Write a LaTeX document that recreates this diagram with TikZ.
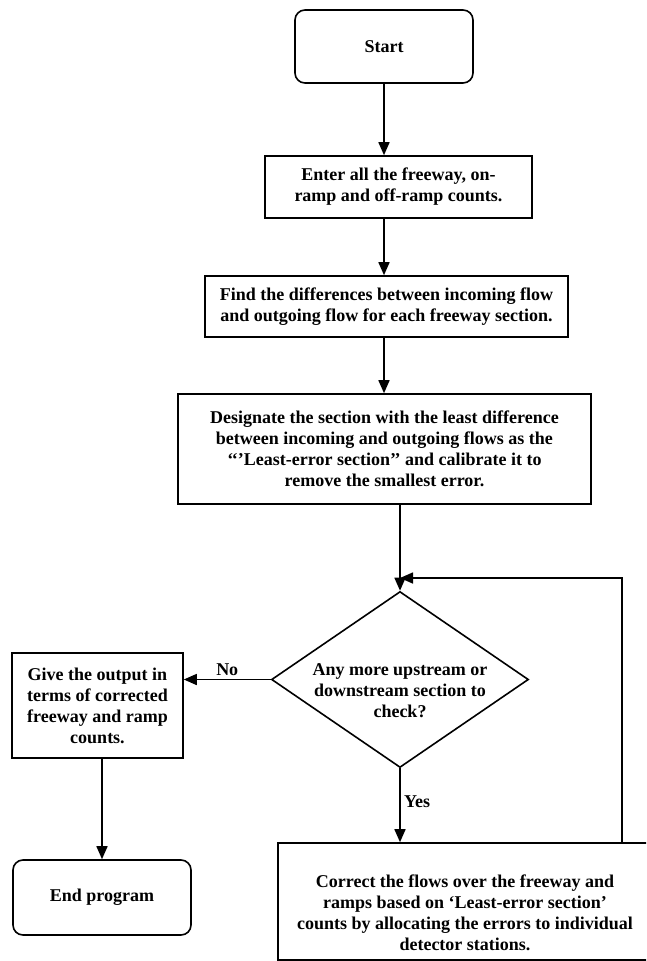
\documentclass[tikz,border=0pt]{standalone}
\usepackage{fontspec}
\setmainfont{Liberation Serif}
\usetikzlibrary{shapes.geometric,arrows.meta}
\begin{document}
\begin{tikzpicture}[x=1pt, y=-1pt, line width=1.6pt, font=\fontsize{18}{21}\selectfont\bfseries]
        \tikzstyle{boxstyle}=[shape=rectangle, draw, align=center, inner sep=2pt]
        \tikzstyle{termstyle}=[shape=rectangle, rounded corners=10pt, draw, align=center]
        \tikzstyle{decstyle}=[shape=diamond, draw, align=center, inner sep=0pt, aspect=1.46]
        \tikzstyle{lowtext}=[align=center, yshift=-11pt]
        \tikzstyle{arrowstyle}=[-{Triangle[length=13pt, width=11pt]}]
        \clip (0, 0) rectangle (646, 961);

        % the steps down the middle
        \node[termstyle, minimum width=178pt, minimum height=73pt] at (384, 46.5) (start) {Start};
        \node[boxstyle, minimum width=267pt, minimum height=62pt] at (398.5, 187) (enter) {Enter all the freeway, on-\\ramp and off-ramp counts.};
        \node[boxstyle, minimum width=363pt, minimum height=61pt] at (386.5, 306.5) (find) {Find the differences between incoming flow\\and outgoing flow for each freeway section.};
        \node[boxstyle, minimum width=413pt, minimum height=110pt] at (384.5, 449) (designate) {Designate the section with the least difference\\between incoming and outgoing flows as the\\‘‘’Least-error section’’ and calibrate it to\\remove the smallest error.};

        % the check and its two ways out
        \node[decstyle, minimum width=257pt, minimum height=176pt, label={[lowtext]center:Any more upstream or\\downstream section to\\check?}] at (400, 679.5) (check) {};
        \node[boxstyle, minimum width=171pt, minimum height=105pt] at (97.5, 705.5) (output) {Give the output in\\terms of corrected\\freeway and ramp\\counts.};
        \node[termstyle, minimum width=178pt, minimum height=75pt] at (102, 897.5) (stop) {End program};
        \node[boxstyle, minimum width=374pt, minimum height=117pt, label={[lowtext]center:Correct the flows over the freeway and\\ramps based on ‘Least-error section’\\counts by allocating the errors to individual\\detector stations.}] at (465, 901.5) (correct) {};
        \coordinate (loop) at (622, 578);

        % draw the arrows between the steps
        \draw[arrowstyle] (start.south) -- (start.south |- enter.north);
        \draw[arrowstyle] (start.south |- enter.south) -- (start.south |- find.north);
        \draw[arrowstyle] (start.south |- find.south) -- (start.south |- designate.north);
        \draw[arrowstyle] (check.north |- designate.south) -- (check.north);
        \draw[arrowstyle] (check.west) -- node[midway, above] {No} (check.west -| output.east);
        \draw[arrowstyle] (check.south) -- node[pos=0.45, right] {Yes} (check.south |- correct.north);
        \draw[arrowstyle] (stop.north |- output.south) -- (stop.north);

        % draw the way back from the correction to the check
        \draw[arrowstyle] (loop |- correct.north) -- (loop) -- (loop -| check.north);
    \end{tikzpicture}
\end{document}
